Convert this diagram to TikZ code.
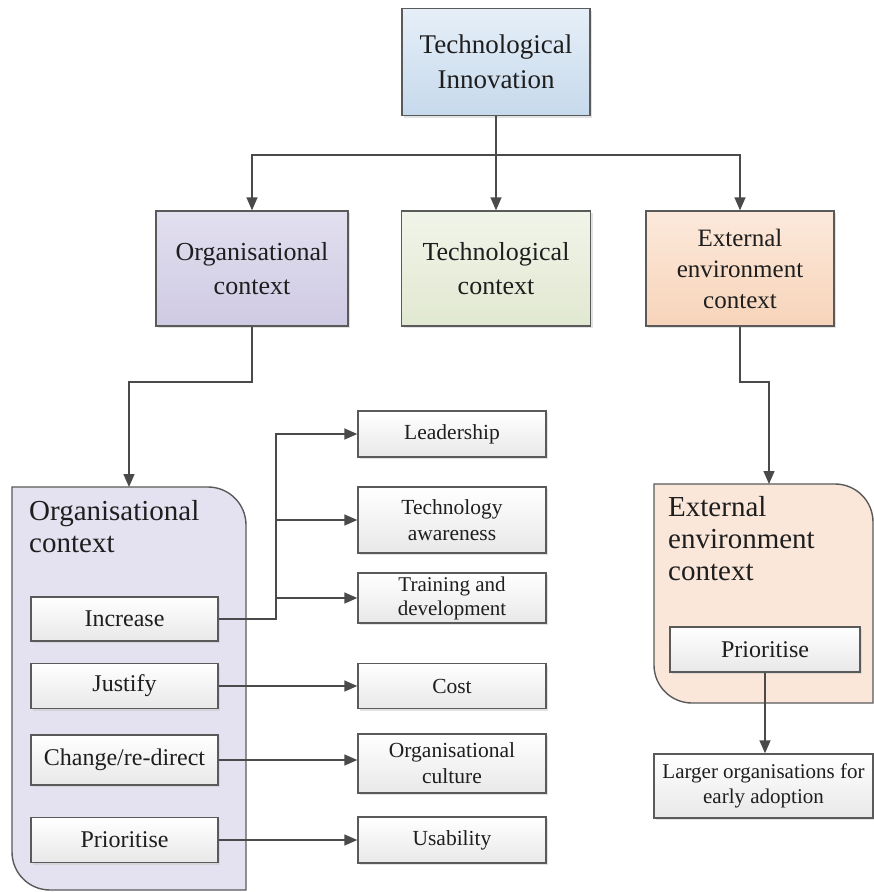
\documentclass[tikz,border=0pt]{standalone}
\usepackage{fontspec}
\setmainfont{Liberation Serif}
\usetikzlibrary{arrows.meta,shadows}
\definecolor{bordc}{HTML}{5A5A5A}
\definecolor{linec}{HTML}{4A4A4A}
\definecolor{txtc}{HTML}{1E1E1E}
\definecolor{blueT}{HTML}{E6EFF8}
\definecolor{blueB}{HTML}{C6D9EC}
\definecolor{lavT}{HTML}{E2DFEF}
\definecolor{lavB}{HTML}{CFCAE3}
\definecolor{grnT}{HTML}{F1F4E9}
\definecolor{grnB}{HTML}{E1E8D1}
\definecolor{pchT}{HTML}{FCE9DB}
\definecolor{pchB}{HTML}{F7D4BA}
\definecolor{lavC}{HTML}{E4E2F0}
\definecolor{pchC}{HTML}{FAE7D9}
\begin{document}
\begin{tikzpicture}[x=1pt,y=-1pt,
  box/.style={draw=bordc, line width=1.4pt, inner sep=2pt, align=center, text=txtc,
    drop shadow={shadow xshift=2pt,shadow yshift=-2pt,fill=black!22}},
  bigbox/.style={box, font=\fontsize{26}{34}\selectfont},
  small/.style={box, top color=white, bottom color=black!9, minimum width=188pt},
  stxt/.style={font=\fontsize{21.5}{26}\selectfont},
  ltxt/.style={font=\fontsize{24}{28}\selectfont},
  line/.style={draw=linec, line width=1.5pt},
  arr/.style={line, -{Triangle[length=13pt,width=11pt]}},
  ctitle/.style={anchor=north west, align=left, text=txtc, inner sep=0pt,
    font=\fontsize{29}{32}\selectfont}
]
\useasboundingbox (0,0) rectangle (874,892);
\fill[white] (0,0) rectangle (874,892);

% containers
\filldraw[fill=lavC, draw=bordc, line width=1.4pt]
  (12,487) -- (208,487) .. controls (229,487) and (246,504) .. (246,525)
  -- (246,890) -- (50,890) .. controls (29,890) and (12,873) .. (12,852) -- cycle;
\filldraw[fill=pchC, draw=bordc, line width=1.4pt]
  (654,484) -- (835,484) .. controls (856,484) and (873,501) .. (873,522)
  -- (873,703) -- (692,703) .. controls (671,703) and (654,686) .. (654,665) -- cycle;
\coordinate (orgCtop) at (129,487);
\coordinate (extCtop) at (769,484);
\node[ctitle] (orgCt) at (29,500) {Organisational\\context};
\node[ctitle] (extCt) at (668,496) {External\\environment\\context};

% top and second row
\node[bigbox, top color=blueT, bottom color=blueB, minimum width=188pt, minimum height=107pt,
  font=\fontsize{27}{35}\selectfont] (top) at (496,62) {Technological\\Innovation};
\node[bigbox, top color=lavT, bottom color=lavB, minimum width=192pt, minimum height=115pt]
  (org2) at (252,268.5) {Organisational\\context};
\node[bigbox, top color=grnT, bottom color=grnB, minimum width=189pt, minimum height=115pt]
  (tech2) at (496,268.5) {Technological\\context};
\node[bigbox, top color=pchT, bottom color=pchB, minimum width=188pt, minimum height=115pt,
  font=\fontsize{25}{31}\selectfont]
  (ext2) at (740,268.5) {External\\environment\\context};

% right column
\node[small, stxt, minimum height=46pt] (lead) at (452,434) {Leadership};
\node[small, stxt, minimum height=66pt] (aware) at (452,520) {Technology\\awareness};
\node[small, minimum height=50pt, font=\fontsize{21}{24}\selectfont] (train) at (452,598) {Training and\\development};
\node[small, stxt, minimum height=45pt] (cost) at (452,686) {Cost};
\node[small, stxt, minimum height=59pt] (cult) at (452,763.5) {Organisational\\culture};
\node[small, stxt, minimum height=46pt] (usab) at (452,840) {Usability};

% left inner boxes
\node[small, ltxt, minimum width=187pt, minimum height=44pt] (inc) at (124.5,619) {Increase};
\node[small, ltxt, minimum width=187pt, minimum height=45pt] (just) at (124.5,686) {Justify};
\node[small, ltxt, minimum width=187pt, minimum height=50pt] (chg) at (124.5,760) {Change/re-direct};
\node[small, ltxt, minimum width=187pt, minimum height=45pt] (prio) at (124.5,840) {Prioritise};

% external
\node[small, ltxt, minimum width=190pt, minimum height=45pt] (eprio) at (765,649.5) {Prioritise};
\node[small, font=\fontsize{21}{25}\selectfont, minimum width=219pt, minimum height=64pt]
  (larger) at (763.5,786) {Larger organisations for\\early adoption};

% connectors
\coordinate (hbar) at (0,155);
\coordinate (h2) at (0,382);
\coordinate (bx) at (276,0);
\draw[line] (top.south) -- (top.south |- hbar);
\draw[arr] (top.south |- hbar) -| (org2.north);
\draw[arr] (top.south |- hbar) -| (ext2.north);
\draw[arr] (top.south) -- (tech2.north);
\draw[arr] (org2.south) -- (org2.south |- h2) -| (orgCtop);
\draw[arr] (ext2.south) -- (ext2.south |- h2) -| (extCtop);
\draw[arr] (inc.east) -- (inc.east -| bx) |- (lead.west);
\draw[arr] (inc.east -| bx) |- (aware.west);
\draw[arr] (inc.east -| bx) |- (train.west);
\draw[arr] (just.east) -- (cost.west);
\draw[arr] (chg.east) -- (chg.east -| cult.west);
\draw[arr] (prio.east) -- (usab.west);
\draw[arr] (eprio.south) -- (eprio.south |- larger.north);
\end{tikzpicture}
\end{document}
